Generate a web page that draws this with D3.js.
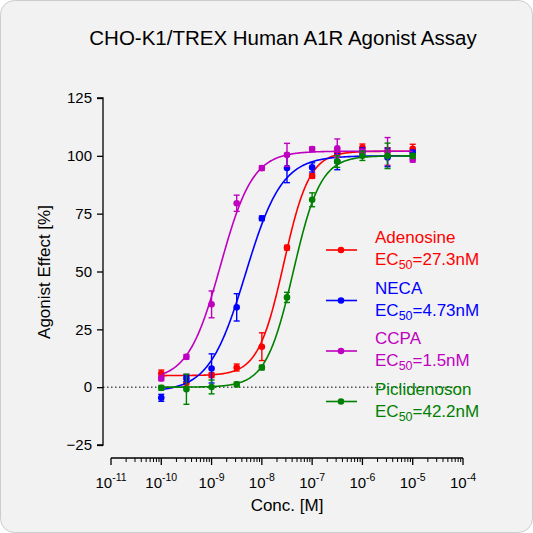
<!DOCTYPE html><html><head><meta charset="utf-8"><script src="https://cdn.jsdelivr.net/npm/d3@7"></script>
<style>body{margin:0;background:#fff}svg{font-family:Arial,"Liberation Sans",sans-serif}</style></head><body><svg id="c" width="533" height="533"></svg>
<script>
const concs=[1e-10,3.16e-10,1e-9,3.16e-9,1e-8,3.16e-8,1e-7,3.16e-7,1e-6,3.16e-6,1e-5];
const names=["Adenosine","NECA","CCPA","Piclidenoson"];
const ec50Labels=["27.3nM","4.73nM","1.5nM","42.2nM"];
const colors=["#ff0000","#0000ff","#bf00bf","#008000"];
const adenosine=[5.9,1.9,5.2,8.5,17.5,60.3,91.3,101.5,103.6,102,103];
const neca=[-4.6,4,8.1,34.5,73,94.7,95,97.5,101.9,99.3,101.4];
const ccpa=[3.8,13.1,35.8,79.5,94.7,100.4,102.9,103.3,101.9,101.9,98.3];
const picl=[-0.3,-0.9,0.1,1.2,8.5,38.8,81,97.5,100,100,100];
const errA=[1.5,1.5,1,1.5,6,1,1,1,1.5,1.5,2];
const errN=[1.5,1.5,6.3,5.9,1,6.3,2,3.5,1.5,4,1];
const errC=[1,1,5.8,3.5,1,5,1,4,1,6,1];
const errP=[1,6.5,3,1,1,2.2,3,2.5,2,5.5,1];
const fits=[[5,102,27.3e-9,1.7],[-2,100,4.73e-9,1.2],[3,102,1.5e-9,1.35],[0,100,42.2e-9,1.6]];
const yTicks=[-25,0,25,50,75,100,125];
const xExps=[-11,-10,-9,-8,-7,-6,-5,-4];
const series=[adenosine,neca,ccpa,picl], errs=[errA,errN,errC,errP];

const svg=d3.select("#c");
svg.append("rect").attr("x",0.5).attr("y",0.5).attr("width",532).attr("height",532).attr("rx",14).attr("fill","#f2f2f2").attr("stroke","#cccccc");
const x=d3.scaleLog().domain([1e-11,1e-4]).range([111,463]);
const y=d3.scaleLinear().domain([-25,125]).range([445,98]);
svg.append("text").attr("x",283).attr("y",45).attr("text-anchor","middle").attr("font-size",20.5).text("CHO-K1/TREX Human  A1R Agonist Assay");
const ya=svg.append("g").attr("transform","translate(103,0)").call(d3.axisLeft(y).tickValues(yTicks).tickSize(6).tickPadding(5));
ya.selectAll("text").attr("font-size",15).attr("fill","#000");
ya.select(".domain").attr("d","M-6,"+y(125)+"H0V"+y(-25)+"H-6").attr("stroke-width",1.3);
ya.selectAll("line").attr("stroke-width",1.3);
const minor=[];for(let e=-11;e<-4;e++)for(let k=2;k<=9;k++)minor.push(k*Math.pow(10,e));
const xa=svg.append("g").attr("transform","translate(0,458)");
xa.append("line").attr("x1",x(1e-11)).attr("x2",x(1e-4)).attr("stroke","#000").attr("stroke-width",1.3);
xa.selectAll(".mj").data(xExps).join("line").attr("x1",e=>x(Math.pow(10,e))).attr("x2",e=>x(Math.pow(10,e))).attr("y1",0).attr("y2",7).attr("stroke","#000").attr("stroke-width",1.3);
xa.selectAll(".mn").data(minor).join("line").attr("x1",d=>x(d)).attr("x2",d=>x(d)).attr("y1",0).attr("y2",4).attr("stroke","#000");
const tl=xa.selectAll(".tl").data(xExps).join("text").attr("x",e=>x(Math.pow(10,e))).attr("y",30).attr("text-anchor","middle").attr("font-size",15);
tl.append("tspan").text("10");tl.append("tspan").attr("dy",-7).attr("font-size",10.5).text(e=>"-"+(-e));
svg.append("text").attr("x",287).attr("y",511).attr("text-anchor","middle").attr("font-size",17).text("Conc. [M]");
svg.append("text").attr("transform","translate(50,272) rotate(-90)").attr("text-anchor","middle").attr("font-size",17).text("Agonist Effect [%]");
svg.append("line").attr("x1",103).attr("x2",463).attr("y1",y(0)).attr("y2",y(0)).attr("stroke","#000").attr("stroke-dasharray","1.5,2.5");
const grid=d3.range(0,301).map(i=>Math.pow(10,-10+i*5/300));
series.forEach((s,i)=>{
 const [b,t,ec,h]=fits[i],c=colors[i];
 svg.append("path").attr("fill","none").attr("stroke",c).attr("stroke-width",1.6)
  .attr("d",d3.line().x(d=>x(d)).y(d=>y(b+(t-b)/(1+Math.pow(ec/d,h))))(grid));
 const g=svg.append("g").attr("stroke",c).attr("fill",c);
 s.forEach((v,j)=>{const cx=x(concs[j]),e=errs[i][j];
  g.append("line").attr("x1",cx).attr("x2",cx).attr("y1",y(v-e)).attr("y2",y(v+e)).attr("stroke-width",1.4);
  g.append("line").attr("x1",cx-3).attr("x2",cx+3).attr("y1",y(v-e)).attr("y2",y(v-e)).attr("stroke-width",1.4);
  g.append("line").attr("x1",cx-3).attr("x2",cx+3).attr("y1",y(v+e)).attr("y2",y(v+e)).attr("stroke-width",1.4);
  g.append("circle").attr("cx",cx).attr("cy",y(v)).attr("r",3.3).attr("stroke","none");});
 const ly=250+i*50.5;
 svg.append("line").attr("x1",326).attr("x2",357).attr("y1",ly).attr("y2",ly).attr("stroke",c).attr("stroke-width",1.6);
 svg.append("circle").attr("cx",341).attr("cy",ly).attr("r",3.3).attr("fill",c);
 svg.append("text").attr("x",375).attr("y",ly-7).attr("font-size",17).attr("fill",c).text(names[i]);
 const t2=svg.append("text").attr("x",375).attr("y",ly+15).attr("font-size",17).attr("fill",c);
 t2.append("tspan").text("EC");t2.append("tspan").attr("dy",4).attr("font-size",12.5).text("50");t2.append("tspan").attr("dy",-4).text("="+ec50Labels[i]);
});
</script></body></html>
